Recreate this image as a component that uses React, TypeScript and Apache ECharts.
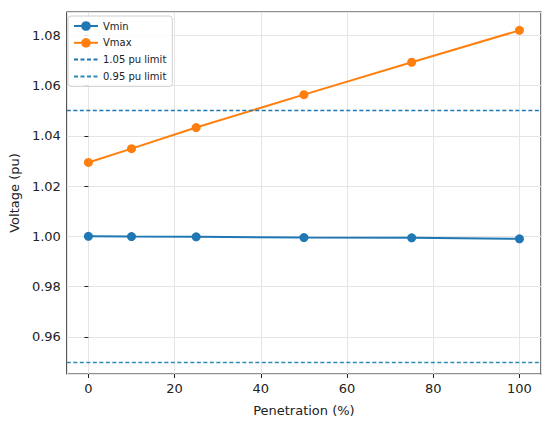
import React, { useEffect, useRef } from "react";
import * as echarts from "echarts";

const penetration = [0, 10, 25, 50, 75, 100];
const vmin = [1.0, 0.9999, 0.9998, 0.9995, 0.9994, 0.999];
const vmax = [1.0294, 1.0349, 1.0433, 1.0564, 1.0693, 1.082];
const upperLimit = 1.05;
const lowerLimit = 0.95;
const xName = "Penetration (%)";
const yName = "Voltage (pu)";
const legendNames = ["Vmin", "Vmax", "1.05 pu limit", "0.95 pu limit"];

const FONT = "DejaVu Sans";

export default function App() {
  const ref = useRef<HTMLDivElement>(null);
  useEffect(() => {
    if (!ref.current) return;
    const chart = echarts.init(ref.current, undefined, { renderer: "svg" });
    const axisCommon = {
      axisLine: { show: false },
      axisTick: { show: true, inside: false, length: 4, lineStyle: { color: "#222", width: 1 } },
      splitLine: { show: true, lineStyle: { color: "#e5e5e5", width: 1 } },
      axisLabel: { color: "#222", fontFamily: FONT, fontSize: 13, showMinLabel: false, showMaxLabel: false },
      nameTextStyle: { color: "#222", fontFamily: FONT, fontSize: 13 },
    };
    chart.setOption({
      animation: false,
      textStyle: { fontFamily: FONT },
      grid: { left: 64, right: 9, top: 12, bottom: 52, show: true, borderColor: "#222", borderWidth: 1.2, backgroundColor: "transparent" },
      legend: {
        orient: "vertical",
        left: 68,
        top: 16,
        itemWidth: 24,
        itemHeight: 12,
        itemGap: 6.8,
        padding: [5, 6, 5, 5],
        borderColor: "#d0d0d0",
        borderWidth: 1,
        borderRadius: 3,
        backgroundColor: "rgba(255,255,255,0.85)",
        textStyle: { fontFamily: FONT, fontSize: 10, color: "#222" },
        data: [
          { name: legendNames[0] },
          { name: legendNames[1] },
          { name: legendNames[2], itemStyle: { opacity: 0 } },
          { name: legendNames[3], itemStyle: { opacity: 0 } },
        ],
      },
      xAxis: {
        ...axisCommon,
        type: "value",
        min: -5,
        max: 105,
        splitNumber: 5,
        name: xName,
        nameLocation: "middle",
        nameGap: 30,
        axisLabel: { ...axisCommon.axisLabel, margin: 8 },
      },
      yAxis: {
        ...axisCommon,
        type: "value",
        min: 0.9452,
        max: 1.0893,
        splitNumber: 7,
        name: yName,
        nameLocation: "middle",
        nameGap: 37,
        axisLabel: { ...axisCommon.axisLabel, margin: 6, formatter: (v: number) => v.toFixed(2) },
      },
      series: [
        {
          name: legendNames[0],
          type: "line",
          data: penetration.map((x, i) => [x, vmin[i]]),
          symbol: "circle",
          symbolSize: 9,
          lineStyle: { color: "#1f77b4", width: 2 },
          itemStyle: { color: "#1f77b4" },
          z: 3,
        },
        {
          name: legendNames[1],
          type: "line",
          data: penetration.map((x, i) => [x, vmax[i]]),
          symbol: "circle",
          symbolSize: 9,
          lineStyle: { color: "#ff7f0e", width: 2 },
          itemStyle: { color: "#ff7f0e" },
          z: 3,
        },
        {
          name: legendNames[2],
          type: "line",
          data: [],
          symbol: "none",
          lineStyle: { color: "#1f77b4", width: 1.3, type: [4, 2.5] },
          itemStyle: { color: "#1f77b4" },
          markLine: {
            silent: true,
            symbol: "none",
            label: { show: false },
            lineStyle: { color: "#1f77b4", width: 1.3, type: [4, 2.5] },
            data: [{ yAxis: upperLimit }],
          },
        },
        {
          name: legendNames[3],
          type: "line",
          data: [],
          symbol: "none",
          lineStyle: { color: "#2a8cb5", width: 1.3, type: [4, 2.5] },
          itemStyle: { color: "#2a8cb5" },
          markLine: {
            silent: true,
            symbol: "none",
            label: { show: false },
            lineStyle: { color: "#2a8cb5", width: 1.3, type: [4, 2.5] },
            data: [{ yAxis: lowerLimit }],
          },
        },
      ],
    });
    return () => chart.dispose();
  }, []);
  return <div ref={ref} style={{ position: "absolute", left: 0, top: 0, width: 550, height: 426 }} />;
}
